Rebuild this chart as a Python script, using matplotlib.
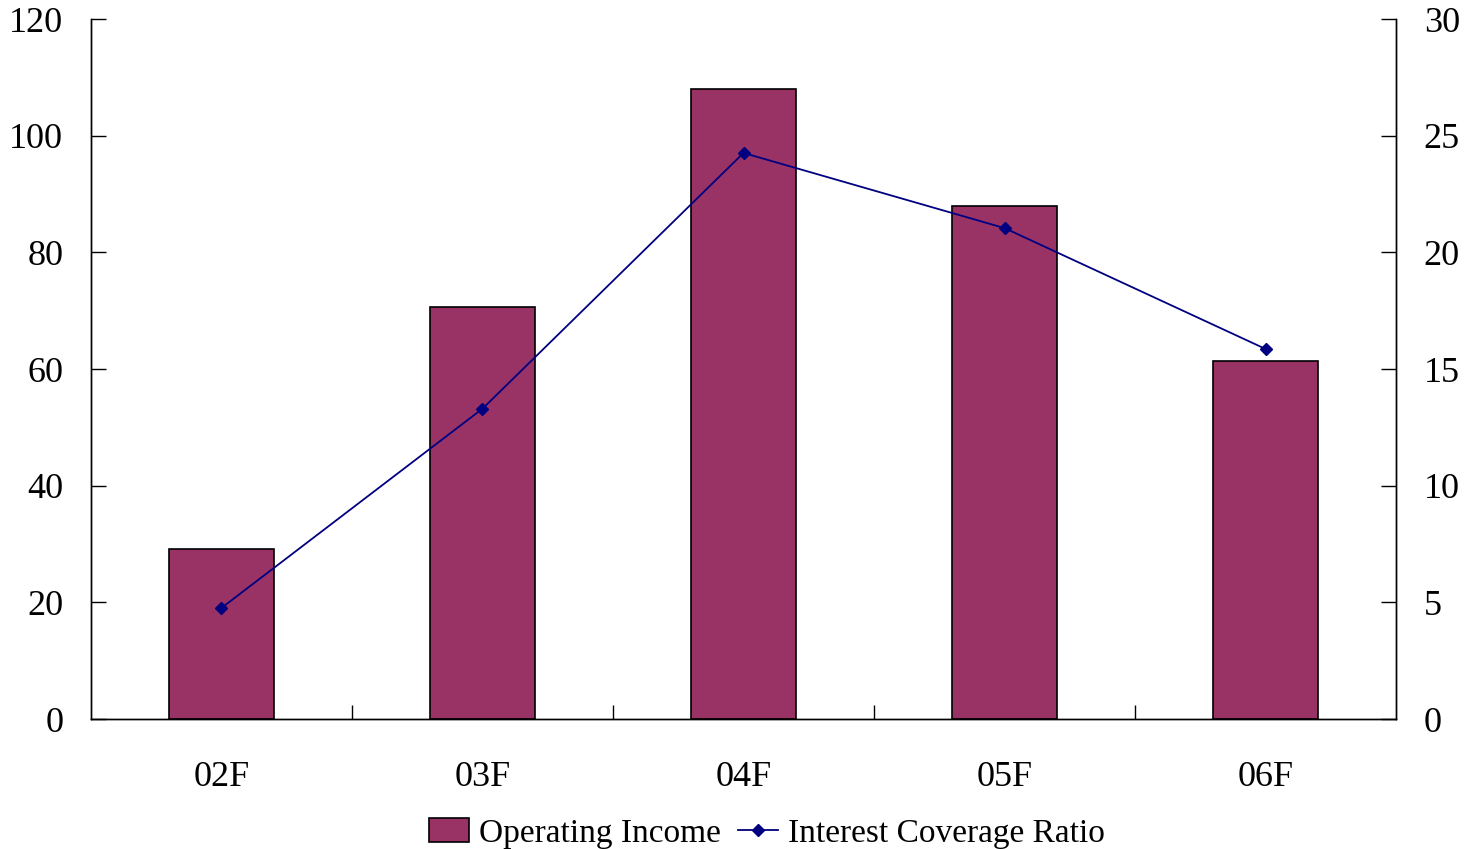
import matplotlib
matplotlib.use("Agg")
import matplotlib.pyplot as plt
import numpy as np

# data
categories = ["02F", "03F", "04F", "05F", "06F"]
operating_income = [29.2, 70.6, 108.0, 87.9, 61.4]
coverage_ratio = [4.76, 13.3, 24.26, 21.04, 15.86]

plt.rcParams['font.family'] = ['Liberation Serif', 'DejaVu Serif']

fig = plt.figure(figsize=(14.72, 8.49), dpi=100)
ax = fig.add_axes([0.0618, 0.1531, 0.8866, 0.8245])
ax2 = ax.twinx()

x = np.arange(len(categories))
bars = ax.bar(x, operating_income, width=0.40, color='#993366',
              edgecolor='black', linewidth=1.2, label='Operating Income', zorder=2)
line, = ax2.plot(x, coverage_ratio, color='#000080', linewidth=1.3,
                 marker='D', markersize=6, label='Interest Coverage Ratio', zorder=3)

ax.set_xlim(-0.5, len(categories) - 0.5)
ax.set_ylim(0, 120)
ax2.set_ylim(0, 30)
ax.set_yticks(np.arange(0, 121, 20))
ax2.set_yticks(np.arange(0, 31, 5))

# category labels centred, tick marks at category boundaries
ax.set_xticks(x)
ax.set_xticklabels(categories)
ax.tick_params(axis='x', which='major', length=0, pad=30, labelsize=26)
ax.set_xticks(np.arange(0.5, len(categories) - 1, 1), minor=True)
ax.tick_params(axis='x', which='minor', direction='in', length=10, width=1)

ax.tick_params(axis='y', direction='in', length=11, width=1, labelsize=26, pad=20)
ax2.tick_params(axis='y', direction='in', length=11, width=1, labelsize=26, pad=20)

for a in (ax, ax2):
    a.spines['top'].set_visible(False)
    for s in ('left', 'right', 'bottom'):
        a.spines[s].set_linewidth(1)

fig.legend([bars, line], ['Operating Income', 'Interest Coverage Ratio'],
           loc='lower center', bbox_to_anchor=(0.521, -0.035), ncol=2, frameon=False,
           fontsize=24, handlelength=1.2, handletextpad=0.3, columnspacing=0.5)

fig.savefig('out.png', dpi=100)
